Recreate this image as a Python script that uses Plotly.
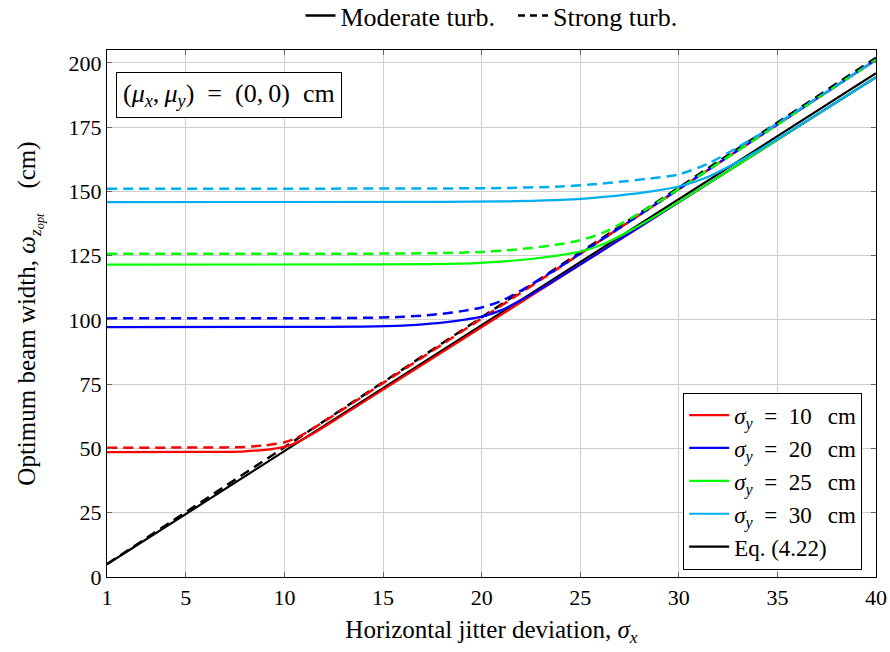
import plotly.graph_objects as go

# Optimum beam width vs. horizontal jitter deviation, (mu_x, mu_y) = (0, 0) cm
SIGMA_Y_LABELS = ["10", "20", "25", "30"]
COLORS = ["#ff0000", "#0000ff", "#00ff00", "#00aeef"]

# sigma_y = 10 cm
x_10 = [1, 6, 7, 8, 8.5, 9, 9.5, 10, 10.5, 11, 11.5, 12, 13, 40]
mod_10 = [48.6, 48.65, 48.7, 48.9, 49.13, 49.47, 49.96, 50.64, 51.90, 53.85, 56.04, 58.37, 63.18, 194.4]
str_10 = [50.3, 50.35, 50.4, 50.6, 50.85, 51.2, 51.71, 52.41, 53.72, 55.73, 58.0, 60.41, 65.39, 201.2]

# sigma_y = 20 cm
x_20 = [1, 12, 14, 16, 17, 18, 19, 20, 21, 22, 23, 24, 26, 40]
mod_20 = [97.2, 97.3, 97.4, 97.78, 98.27, 98.95, 99.92, 101.28, 103.81, 107.70, 112.07, 116.74, 126.36, 194.4]
str_20 = [100.6, 100.7, 100.8, 101.2, 101.71, 102.41, 103.42, 104.83, 107.44, 111.46, 115.99, 120.82, 130.78, 201.2]

# sigma_y = 25 cm
x_25 = [1, 15, 17.5, 20, 21.25, 22.5, 23.75, 25, 26.25, 27.5, 28.75, 30, 32.5, 40]
mod_25 = [121.5, 121.6, 121.7, 122.23, 122.84, 123.69, 124.9, 126.6, 129.76, 134.62, 140.09, 145.92, 157.95, 194.4]
str_25 = [125.7, 125.8, 125.95, 126.45, 127.08, 127.96, 129.22, 130.98, 134.25, 139.28, 144.93, 150.97, 163.41, 201.2]

# sigma_y = 30 cm
x_30 = [1, 18, 21, 24, 25.5, 27, 28.5, 30, 31.5, 33, 34.5, 36, 39, 40]
mod_30 = [145.8, 145.95, 146.1, 146.67, 147.4, 148.42, 149.88, 151.92, 155.71, 161.55, 168.11, 175.11, 189.54, 194.4]
str_30 = [151.0, 151.15, 151.3, 151.91, 152.66, 153.72, 155.0, 156.6, 160.9, 167.2, 174.0, 181.3, 196.2, 201.2]

# Eq. (4.22)
eq_x = [1, 40]
eq_mod = [4.9, 196.0]
eq_str = [5.05, 202.0]

x_ticks = [1, 5, 10, 15, 20, 25, 30, 35, 40]
y_ticks = [0, 25, 50, 75, 100, 125, 150, 175, 200]

FONT = "Liberation Serif"
DASH = "10px,6px"
LW = 2.2
LW_DASH = 2.5
SP = "\u2002"          # en space
EQ = "\u2002=\u2002"   # spacing around '=' in math-style labels

series = [
    (x_10, mod_10, str_10),
    (x_20, mod_20, str_20),
    (x_25, mod_25, str_25),
    (x_30, mod_30, str_30),
]

fig = go.Figure()

# Eq. (4.22) reference lines
fig.add_trace(go.Scatter(x=eq_x, y=eq_mod, mode="lines",
                         line=dict(color="black", width=LW),
                         name="Eq. (4.22)", legend="legend", legendrank=900))
fig.add_trace(go.Scatter(x=eq_x, y=eq_str, mode="lines",
                         line=dict(color="black", width=LW_DASH, dash=DASH),
                         showlegend=False))

for i, ((xs, ym, ys), lab, col) in enumerate(zip(series, SIGMA_Y_LABELS, COLORS)):
    fig.add_trace(go.Scatter(x=xs, y=ym, mode="lines",
                             line=dict(color=col, width=LW, shape="spline", smoothing=0.8),
                             name=f"<i>σ<sub>y</sub></i>{EQ}{lab}{SP}\u2009cm",
                             legend="legend", legendrank=100 + i))
    fig.add_trace(go.Scatter(x=xs, y=ys, mode="lines",
                             line=dict(color=col, width=LW_DASH, dash=DASH,
                                       shape="spline", smoothing=0.8),
                             showlegend=False))

# Turbulence-regime key above the plot
fig.add_trace(go.Scatter(x=[None], y=[None], mode="lines",
                         line=dict(color="black", width=2.5),
                         name="Moderate turb.\u2002", legend="legend2"))
fig.add_trace(go.Scatter(x=[None], y=[None], mode="lines",
                         line=dict(color="black", width=2.5, dash="7px,5px"),
                         name="Strong turb.", legend="legend2"))

axis_common = dict(
    showline=True, linecolor="black", linewidth=1.2, mirror="ticks",
    ticks="inside", ticklen=5, tickcolor="#666666", tickwidth=1,
    showgrid=True, gridcolor="#cfcfcf", gridwidth=1, zeroline=False,
    tickfont=dict(family=FONT, size=22, color="black"),
)

fig.update_layout(
    width=890, height=652,
    margin=dict(l=107, r=14, t=50, b=75, autoexpand=False),
    paper_bgcolor="white", plot_bgcolor="white",
    font=dict(family=FONT, size=22, color="black"),
    xaxis=dict(range=[1, 40], tickvals=x_ticks,
               title=dict(text="Horizontal jitter deviation, <i>σ<sub>x</sub></i>",
                          font=dict(family=FONT, size=25), standoff=11),
               **axis_common),
    yaxis=dict(range=[0, 205], tickvals=y_ticks,
               title=dict(text=f"Optimum beam width, <i>ω<sub>z<sub>opt</sub></sub></i>{SP}{SP}(cm)",
                          font=dict(family=FONT, size=25), standoff=25),
               **axis_common),
    legend=dict(x=0.982, y=0.014, xanchor="right", yanchor="bottom",
                bgcolor="white", bordercolor="black", borderwidth=1,
                font=dict(family=FONT, size=23), tracegroupgap=0,
                itemwidth=40),
    legend2=dict(orientation="h", x=0.5, y=1.11, xanchor="center", yanchor="top",
                 xref="paper", yref="paper",
                 bgcolor="rgba(0,0,0,0)", borderwidth=0,
                 font=dict(family=FONT, size=26)),
    annotations=[dict(
        xref="paper", yref="paper", x=0.0113, y=0.958, xanchor="left", yanchor="top",
        text=f"(<i>μ<sub>x</sub></i>,\u2009<i>μ<sub>y</sub></i>){SP}={SP}(0,\u20090){SP}cm",
        showarrow=False, bordercolor="black", borderwidth=1, borderpad=6,
        bgcolor="white", font=dict(family=FONT, size=26, color="black"))],
)

fig.write_html("out.html")
